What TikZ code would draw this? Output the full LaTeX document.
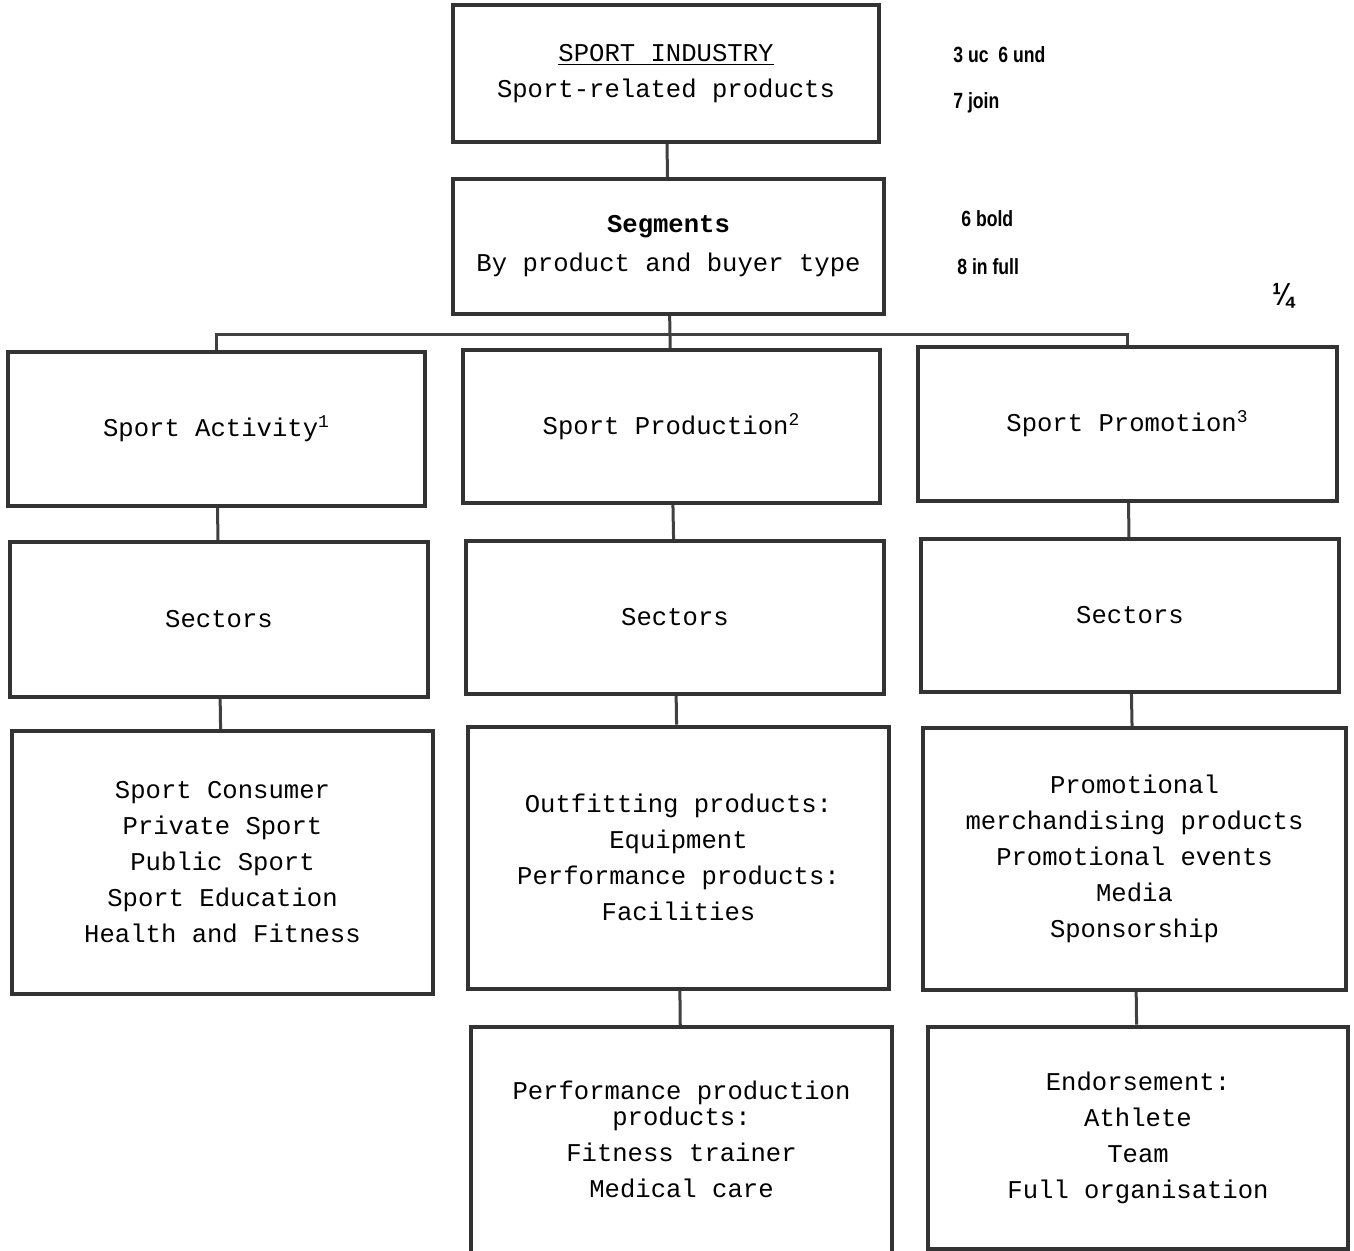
\documentclass[tikz,border=0pt]{standalone}
\usepackage{fontspec}
\setmonofont{Liberation Mono}
\newfontfamily\notefont[FakeStretch=0.8]{Liberation Sans}

\tikzset{
  box/.style={draw=black!80, line width=2pt, inner sep=0pt, align=center,
    font=\ttfamily\fontsize{12.8}{18}\selectfont},
  link/.style={draw=black!75, line width=1.5pt},
  note/.style={anchor=base west, inner sep=0pt, font=\notefont\bfseries\fontsize{11}{13}\selectfont}
}

\begin{document}
\begin{tikzpicture}[x=0.5pt, y=-0.5pt]
    \useasboundingbox (0,0) rectangle (1354,1250);
    \clip (0,0) rectangle (1354,1250);

    \node[box, minimum width=213pt, minimum height=68.5pt] (ind) at (666,73.5)
        {\underline{SPORT INDUSTRY}\\Sport-related products};
    \node[box, minimum width=215.5pt, minimum height=67.5pt] (seg) at (668.5,246.5)
        {\textbf{Segments}\\[1.5pt]By product and buyer type};

    \node[box, minimum width=208.5pt, minimum height=77pt] (act) at (216.5,429)
        {Sport Activity\textsuperscript{1}};
    \node[box, minimum width=208.5pt, minimum height=76.5pt] (prod) at (671.5,426.5)
        {Sport Production\textsuperscript{2}};
    \node[box, minimum width=209.5pt, minimum height=77pt] (prom) at (1127.5,424)
        {Sport Promotion\textsuperscript{3}};

    \node[box, minimum width=209pt, minimum height=77.5pt] (secA) at (219,619.5) {Sectors};
    \node[box, minimum width=209pt, minimum height=76.5pt] (secP) at (675,617.5) {Sectors};
    \node[box, minimum width=209pt, minimum height=76.5pt] (secR) at (1130,615.5) {Sectors};

    \node[box, minimum width=210.5pt, minimum height=131.5pt] (listA) at (222.5,862.5)
        {Sport Consumer\\Private Sport\\Public Sport\\Sport Education\\Health and Fitness};
    \node[box, minimum width=210.5pt, minimum height=131pt] (listP) at (678.5,857.5)
        {Outfitting products:\\Equipment\\Performance products:\\Facilities};
    \node[box, minimum width=211.5pt, minimum height=131pt] (listR) at (1134.5,859)
        {Promotional\\merchandising products\\Promotional events\\Media\\Sponsorship};

    \node[box, minimum width=210.5pt, minimum height=118pt] (perf) at (681.5,1145)
        {Performance production\\[-5pt]products:\\Fitness trainer\\Medical care\rule[-6pt]{0pt}{0pt}};
    \node[box, minimum width=210pt, minimum height=111pt] (endo) at (1138,1137.5)
        {Endorsement:\\Athlete\\Team\\Full organisation};

    % connectors
    \coordinate (bus) at (670,334);
    \draw[link] (ind) -- (seg);
    \draw[link] (seg) -- (prod);
    \draw[link] (act.north) |- (bus) -| (prom.north);
    \draw[link] (act) -- (secA);
    \draw[link] (prod) -- (secP);
    \draw[link] (prom) -- (secR);
    \draw[link] (secA) -- (listA);
    \draw[link] (secP) -- (listP);
    \draw[link] (secR) -- (listR);
    \draw[link] (listP) -- (perf);
    \draw[link] (listR) -- (endo);

    % editing notes
    \node[note] (n1) at (953,62) {3 uc\ \ 6 und};
    \node[note] (n2) at (953,108) {7 join};
    \node[note] (n3) at (961,226) {6 bold};
    \node[note] (n4) at (957,274) {8 in full};
    \node[note, font=\notefont\bfseries\fontsize{16}{18}\selectfont] (n5) at (1272,305) {¼};
\end{tikzpicture}
\end{document}
